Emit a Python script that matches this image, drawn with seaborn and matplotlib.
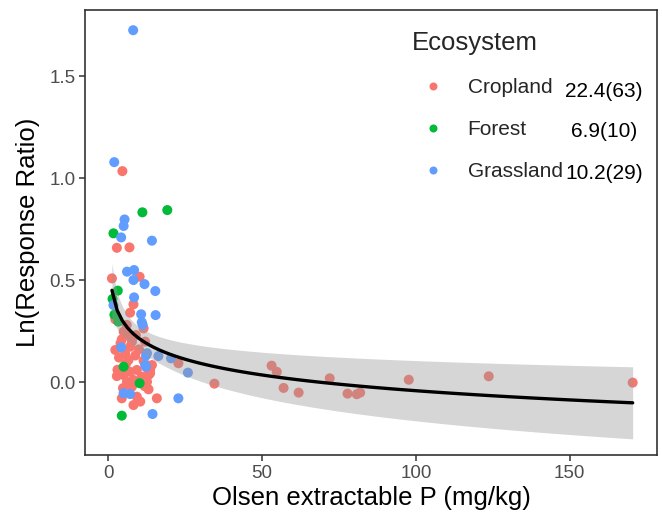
import numpy as np
import pandas as pd
import matplotlib
matplotlib.use("Agg")
import matplotlib.pyplot as plt
import seaborn as sns

# Olsen P (mg/kg) and ln(response ratio) per ecosystem
crop_p = [4.6, 2.8, 6.9, 10.2, 1.2, 8.2, 7.1, 2.3, 11.5, 5.0, 6.6, 4.4, 7.7, 12.0,
          2.3, 7.1, 22.8, 11.5, 14.2, 6.6, 2.8, 5.0, 7.1, 9.3, 10.9, 13.1, 13.6,
          6.1, 8.2, 12.6, 7.7, 13.1, 4.4, 9.3, 15.8, 8.2, 10.4, 13.6, 34.5, 53.1,
          54.8, 57.0, 61.9, 72.0, 77.8, 80.8, 81.9, 97.7, 123.7, 170.5,
          3.5, 4.0, 5.5, 6.0, 8.8, 9.5, 10.0, 3.0, 5.8, 11.8, 9.0, 4.8, 12.5]
crop_rr = [1.034, 0.658, 0.660, 0.516, 0.508, 0.381, 0.340, 0.307, 0.263, 0.247,
           0.230, 0.209, 0.198, 0.198, 0.157, 0.173, 0.092, 0.104, 0.083, 0.108,
           0.029, 0.034, 0.050, 0.059, 0.026, 0.034, 0.059, 0.001, 0.010, 0.001,
           -0.023, -0.036, -0.080, -0.072, -0.080, -0.113, -0.096, 0.043, -0.008,
           0.080, 0.050, -0.029, -0.052, 0.018, -0.057, -0.060, -0.052, 0.011,
           0.028, -0.003,
           0.120, 0.190, 0.140, 0.280, 0.130, 0.000, 0.160, 0.060, 0.090, -0.020,
           0.230, -0.030, 0.070]

forest_p = [11.1, 19.2, 1.7, 3.1, 1.4, 3.3, 5.0, 10.2, 4.4, 2.0]
forest_rr = [0.832, 0.843, 0.729, 0.448, 0.407, 0.296, 0.075, -0.006, -0.165, 0.330]

grass_p = [8.1, 1.95, 5.3, 5.0, 4.2, 14.2, 6.1, 8.4, 8.2, 11.8, 15.3, 8.4, 1.7,
           10.7, 15.4, 10.9, 4.2, 12.6, 16.3, 20.4, 25.9, 12.0, 5.0, 7.1, 22.8,
           14.4, 12.3, 11.2, 12.3]
grass_rr = [1.725, 1.078, 0.797, 0.765, 0.709, 0.693, 0.541, 0.549, 0.500, 0.480,
            0.446, 0.415, 0.377, 0.332, 0.328, 0.293, 0.170, 0.141, 0.127, 0.116,
            0.046, 0.083, -0.055, -0.059, -0.080, -0.157, 0.130, 0.280, 0.075]

ecosystems = ["Cropland", "Forest", "Grassland"]
eco_notes = ["22.4(63)", "6.9(10)", "10.2(29)"]
palette = {"Cropland": "#F8766D", "Forest": "#00BA38", "Grassland": "#619CFF"}

df = pd.concat([
    pd.DataFrame({"P": crop_p, "RR": crop_rr, "Ecosystem": "Cropland"}),
    pd.DataFrame({"P": forest_p, "RR": forest_rr, "Ecosystem": "Forest"}),
    pd.DataFrame({"P": grass_p, "RR": grass_rr, "Ecosystem": "Grassland"}),
], ignore_index=True)

sns.set_theme(style="white")
plt.rcParams["font.family"] = ["Liberation Sans", "DejaVu Sans"]

fig = plt.figure(figsize=(6.62, 5.27), dpi=100)
ax = fig.add_axes([0.1289, 0.1366, 0.8635, 0.8444])

sns.scatterplot(data=df, x="P", y="RR", hue="Ecosystem", hue_order=ecosystems,
                palette=palette, s=52, linewidth=0, alpha=1, ax=ax, zorder=2)

# OLS fit of RR ~ log(P) with a 95% confidence band for the mean
lx = np.log(df["P"].to_numpy())
yy = df["RR"].to_numpy()
n = len(lx)
slope, intercept = np.polyfit(lx, yy, 1)
resid = yy - (intercept + slope * lx)
s_err = np.sqrt(np.sum(resid ** 2) / (n - 2))
sxx = np.sum((lx - lx.mean()) ** 2)
t_crit = 1.984
grid = np.linspace(df["P"].min(), df["P"].max(), 200)
lg = np.log(grid)
fit = intercept + slope * lg
half = t_crit * s_err * np.sqrt(1.0 / n + (lg - lx.mean()) ** 2 / sxx)
ax.fill_between(grid, fit - half, fit + half, color="#999999", alpha=0.4,
                linewidth=0, zorder=3)

sns.regplot(data=df, x="P", y="RR", logx=True, scatter=False, ci=None,
            color="black", line_kws={"linewidth": 2.4, "zorder": 4}, ax=ax)

ax.set_xlim(-7.45, 178.4)
ax.set_ylim(-0.358, 1.824)
ax.set_xticks([0, 50, 100, 150])
ax.set_yticks([0.0, 0.5, 1.0, 1.5])
ax.set_yticklabels(["0.0", "0.5", "1.0", "1.5"])
ax.tick_params(axis="both", which="major", length=4, width=1.1, color="#333333",
               labelsize=13.5, labelcolor="#4D4D4D", direction="out",
               bottom=True, left=True, pad=3)
for sp in ax.spines.values():
    sp.set_visible(True)
    sp.set_color("#333333")
    sp.set_linewidth(1.2)
ax.grid(False)

ax.set_xlabel("Olsen extractable P (mg/kg)", fontsize=18.5, color="black", labelpad=3)
ax.set_ylabel("Ln(Response Ratio)", fontsize=18.5, color="black", labelpad=7)

handles, labels = ax.get_legend_handles_labels()
leg = ax.legend(handles[:3], labels[:3], title="Ecosystem", loc="upper left",
                bbox_to_anchor=(0.572, 0.952), frameon=False, fontsize=15,
                title_fontsize=18.5, markerscale=0.8, handletextpad=0.65,
                labelspacing=1.1, borderaxespad=0, borderpad=0)
leg._legend_box.align = "left"

note_y = [0.818, 0.726, 0.632]
for note, yv in zip(eco_notes, note_y):
    ax.text(0.907, yv, note, transform=ax.transAxes, ha="center", va="center",
            fontsize=15, color="black")

fig.savefig("out.png", dpi=100)
